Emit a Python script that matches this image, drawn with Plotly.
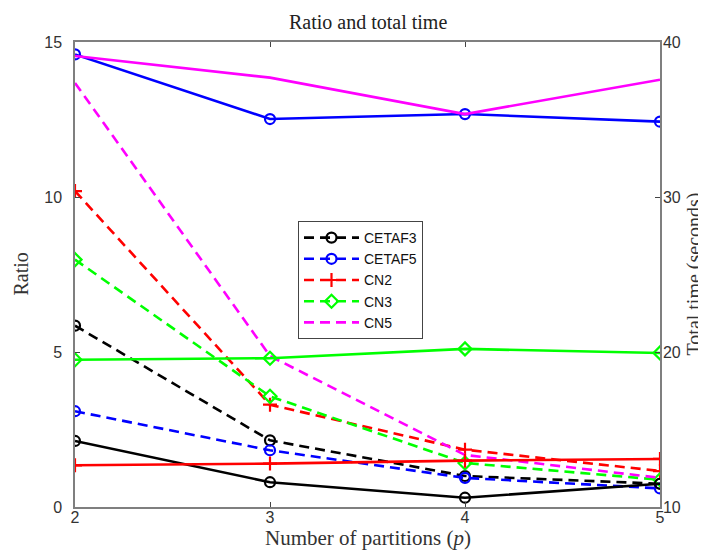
import plotly.graph_objects as go

partitions = [2, 3, 4, 5]
series_names = ["CETAF3", "CETAF5", "CN2", "CN3", "CN5"]
ratio_cetaf3 = [5.85, 2.15, 1.0, 0.75]
ratio_cetaf5 = [3.09, 1.83, 0.94, 0.6]
ratio_cn2 = [10.19, 3.3, 1.85, 1.16]
ratio_cn3 = [7.98, 3.57, 1.42, 0.88]
ratio_cn5 = [13.68, 4.87, 1.68, 0.94]
time_cetaf3 = [14.26, 11.6, 10.6, 11.5]
time_cetaf5 = [39.2, 35.03, 35.35, 34.86]
time_cn2 = [12.69, 12.8, 12.99, 13.1]
time_cn3 = [19.5, 19.6, 20.2, 19.94]
time_cn5 = [39.1, 37.7, 35.35, 37.57]

ratios = [ratio_cetaf3, ratio_cetaf5, ratio_cn2, ratio_cn3, ratio_cn5]
times = [time_cetaf3, time_cetaf5, time_cn2, time_cn3, time_cn5]
colors = ["#000000", "#0000ff", "#ff0000", "#00ff00", "#ff00ff"]
symbols = ["circle-open", "circle-open", "cross-thin-open", "diamond-open", None]

fig = go.Figure()
for name, r, t, c, s in zip(series_names, ratios, times, colors, symbols):
    mode = "lines+markers" if s else "lines"
    marker = dict(symbol=s, size=10, color=c, line=dict(color=c, width=2.2)) if s else None
    fig.add_trace(go.Scatter(x=partitions, y=t, mode=mode, name=name, yaxis="y2",
                             line=dict(color=c, width=2.6), marker=marker, showlegend=False))
for name, r, t, c, s in zip(series_names, ratios, times, colors, symbols):
    mode = "lines+markers" if s else "lines"
    marker = dict(symbol=s, size=10, color=c, line=dict(color=c, width=2.2)) if s else None
    fig.add_trace(go.Scatter(x=partitions, y=r, mode=mode, name=name, yaxis="y",
                             line=dict(color=c, width=2.6, dash="10px,6px"), marker=marker))

tickfont = dict(family="Liberation Sans, Arial, sans-serif", size=16, color="#333333")
serif = "Liberation Serif, DejaVu Serif, serif"
L, R, T, B = 67, 652, 34, 499
W, H = R - L, B - T

def px_x(px):
    return (px - L) / W

def px_y(py):
    return (B - py) / H

fig.update_layout(
    width=706, height=553,
    margin=dict(l=L, r=706 - R, t=T, b=553 - B),
    paper_bgcolor="white", plot_bgcolor="white",
    xaxis=dict(range=[2, 5], tickvals=partitions, ticks="inside", ticklen=5,
               showline=True, linecolor="#7f7f7f", linewidth=1.5, mirror="ticks",
               showgrid=False, zeroline=False, tickfont=tickfont, ticklabelstandoff=-5),
    yaxis=dict(range=[0, 15], tickvals=[0, 5, 10, 15], ticks="inside", ticklen=5,
               showline=True, linecolor="#7f7f7f", linewidth=1.5,
               showgrid=False, zeroline=False, tickfont=tickfont, ticklabelstandoff=8),
    yaxis2=dict(range=[10, 40], tickvals=[10, 20, 30, 40], ticks="inside", ticklen=5,
                overlaying="y", side="right",
                showline=True, linecolor="#7f7f7f", linewidth=1.5,
                showgrid=False, zeroline=False, tickfont=tickfont, ticklabelstandoff=-2),
    legend=dict(x=px_x(290), y=px_y(213), xanchor="left", yanchor="top",
                bordercolor="#444444", borderwidth=1, bgcolor="white",
                font=dict(family="Liberation Sans, Arial, sans-serif", size=14, color="#111111"),
                tracegroupgap=0, itemwidth=55),
    showlegend=True,
    annotations=[
        dict(text="Ratio and total time", xref="paper", yref="paper",
             x=0.5, y=px_y(14), xanchor="center", yanchor="middle", showarrow=False,
             font=dict(family=serif, size=20, color="#222222")),
        dict(text="Number of partitions (<i>p</i>)", xref="paper", yref="paper",
             x=0.5, y=px_y(530), xanchor="center", yanchor="middle", showarrow=False,
             font=dict(family=serif, size=21, color="#333333")),
        dict(text="Ratio", xref="paper", yref="paper", textangle=-90,
             x=px_x(12), y=0.5, xanchor="center", yanchor="middle", showarrow=False,
             font=dict(family=serif, size=20, color="#333333")),
        dict(text="Total time (seconds)", xref="paper", yref="paper", textangle=-90,
             x=px_x(686), y=0.5, xanchor="center", yanchor="middle", showarrow=False,
             font=dict(family=serif, size=20, color="#333333")),
    ],
)
fig.write_html("out.html")
